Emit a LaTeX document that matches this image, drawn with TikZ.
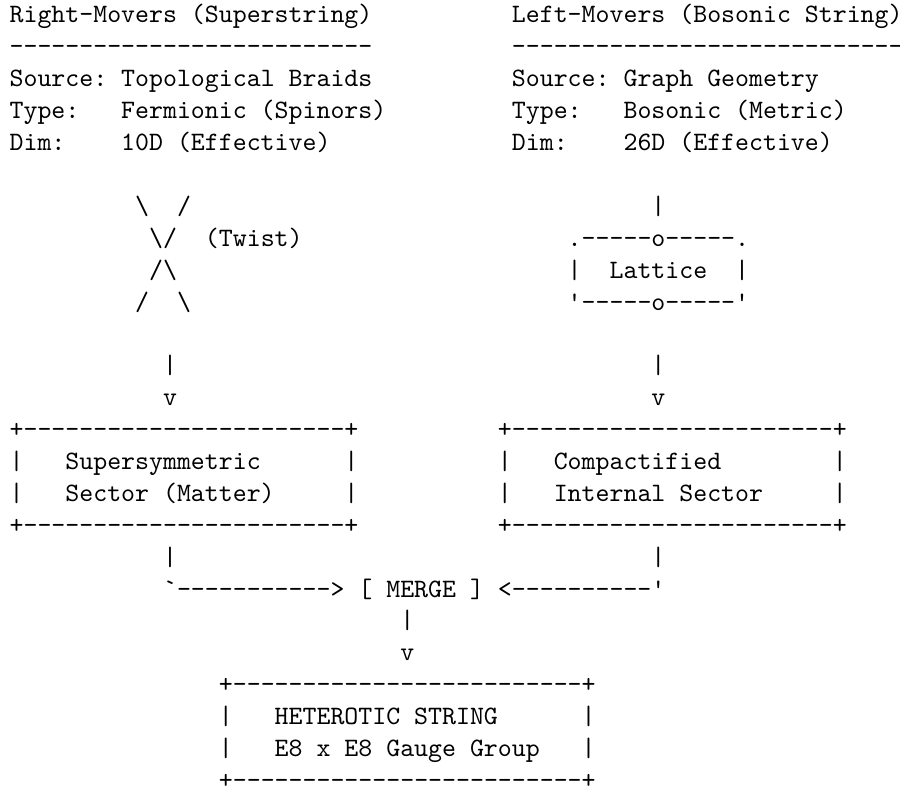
\documentclass[tikz,border=0pt]{standalone}
\usepackage{fontspec}
\usetikzlibrary{positioning}

\begin{document}
\begin{tikzpicture}[x=5.25pt, y=-12pt,
		Txt/.style={font=\ttfamily\fontsize{10pt}{12pt}\selectfont\frenchspacing, inner sep=0pt, anchor=base west},
		]
	\useasboundingbox (-0.65,-0.72) rectangle (63.85,24.1);
	
	
	\node[Txt] (RightTitle) at (0,0) {Right-Movers (Superstring)};
	\node[Txt] (RightRule)  at (0,1) {--------------------------};
	\node[Txt] (RightSource) at (0,2) {Source:};
	\node[Txt] (RightSrc)   at (8,2) {Topological Braids};
	\node[Txt] (RightType)  at (0,3) {Type:};
	\node[Txt] (RightTyp)   at (8,3) {Fermionic (Spinors)};
	\node[Txt] (RightDim)   at (0,4) {Dim:};
	\node[Txt] (RightD)     at (8,4) {10D (Effective)};
	
	\node[Txt] (LeftTitle) at (36,0) {Left-Movers (Bosonic String)};
	\node[Txt] (LeftRule)  at (36,1) {----------------------------};
	\node[Txt] (LeftSource) at (36,2) {Source:};
	\node[Txt] (LeftSrc)   at (44,2) {Graph Geometry};
	\node[Txt] (LeftType)  at (36,3) {Type:};
	\node[Txt] (LeftTyp)   at (44,3) {Bosonic (Metric)};
	\node[Txt] (LeftDim)   at (36,4) {Dim:};
	\node[Txt] (LeftD)     at (44,4) {26D (Effective)};
	
	
	\node[Txt] (BraidA) at (9,6)  {\textbackslash~~/};
	\node[Txt] (BraidB) at (10,7) {\textbackslash/};
	\node[Txt] (Twist)  at (14,7) {(Twist)};
	\node[Txt] (BraidC) at (10,8) {/\textbackslash};
	\node[Txt] (BraidD) at (9,9)  {/~~\textbackslash};
	
	\node[Txt] (LatticeIn)  at (46,6) {|};
	\node[Txt] (LatticeTop) at (40,7) {.-----o-----.};
	\node[Txt] (LatticeL)   at (40,8) {|};
	\node[Txt] (Lattice)    at (43,8) {Lattice};
	\node[Txt] (LatticeR)   at (52,8) {|};
	\node[Txt] (LatticeBot) at (40,9) {'-----o-----'};
	
	
	\node[Txt] (BraidStem)   at (11,11) {|};
	\node[Txt] (BraidHead)   at (11,12) {v};
	\node[Txt] (LatticeStem) at (46,11) {|};
	\node[Txt] (LatticeHead) at (46,12) {v};
	
	
	\node[Txt] (SusyTop)   at (0,13)  {+-----------------------+};
	\node[Txt] (SusyL1)    at (0,14)  {|};
	\node[Txt] (Susy)      at (4,14)  {Supersymmetric};
	\node[Txt] (SusyR1)    at (24,14) {|};
	\node[Txt] (SusyL2)    at (0,15)  {|};
	\node[Txt] (Matter)    at (4,15)  {Sector (Matter)};
	\node[Txt] (SusyR2)    at (24,15) {|};
	\node[Txt] (SusyBot)   at (0,16)  {+-----------------------+};
	
	\node[Txt] (CompTop)   at (35,13) {+-----------------------+};
	\node[Txt] (CompL1)    at (35,14) {|};
	\node[Txt] (Comp)      at (39,14) {Compactified};
	\node[Txt] (CompR1)    at (59,14) {|};
	\node[Txt] (CompL2)    at (35,15) {|};
	\node[Txt] (Internal)  at (39,15) {Internal Sector};
	\node[Txt] (CompR2)    at (59,15) {|};
	\node[Txt] (CompBot)   at (35,16) {+-----------------------+};
	
	
	\node[Txt] (SusyOut)  at (11,17) {|};
	\node[Txt] (CompOut)  at (46,17) {|};
	\node[Txt] (Merge)    at (11,18) {`-----------> [ MERGE ] <----------'};
	\node[Txt] (MergeOut) at (28,19) {|};
	\node[Txt] (MergeHead) at (28,20) {v};
	
	
	\node[Txt] (HetTop)  at (15,21) {+-------------------------+};
	\node[Txt] (HetL1)   at (15,22) {|};
	\node[Txt] (Het)     at (19,22) {HETEROTIC STRING};
	\node[Txt] (HetR1)   at (41,22) {|};
	\node[Txt] (HetL2)   at (15,23) {|};
	\node[Txt] (Gauge)   at (19,23) {E8 x E8 Gauge Group};
	\node[Txt] (HetR2)   at (41,23) {|};
	\node[Txt] (HetBot)  at (15,24) {+-------------------------+};
	
	
	
\end{tikzpicture}
\end{document}
